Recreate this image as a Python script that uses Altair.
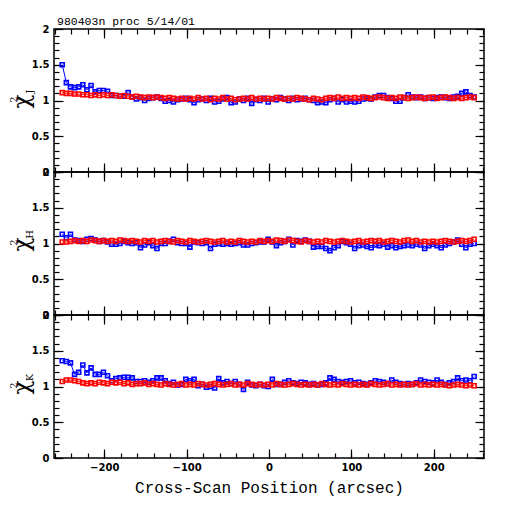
import altair as alt
import pandas as pd

x_pos = [-251, -246, -241, -236, -231, -226, -221, -216, -211, -206,
         -201, -196, -191, -186, -181, -176, -171, -166, -161, -156,
         -151, -146, -141, -136, -131, -126, -121, -116, -111, -106,
         -101, -96, -91, -86, -81, -76, -71, -66, -61, -56,
         -51, -46, -41, -36, -31, -26, -21, -16, -11, -6,
         -1, 4, 9, 14, 19, 24, 29, 34, 39, 44,
         49, 54, 59, 64, 69, 74, 79, 84, 89, 94,
         99, 104, 109, 114, 119, 124, 129, 134, 139, 144,
         149, 154, 159, 164, 169, 174, 179, 184, 189, 194,
         199, 204, 209, 214, 219, 224, 229, 234, 239, 244,
         249]

j_blue = [1.50, 1.25, 1.19, 1.18, 1.19, 1.22, 1.15, 1.21, 1.12, 1.14,
          1.14, 1.13, 1.07, 1.07, 1.06, 1.06, 1.11, 1.05, 1.02, 1.04,
          1.00, 1.03, 1.04, 1.05, 1.03, 0.99, 1.00, 0.98, 1.01, 1.02,
          1.03, 1.01, 0.97, 1.01, 1.02, 1.00, 1.03, 0.98, 0.99, 1.02,
          1.04, 0.97, 0.98, 1.02, 1.00, 1.03, 0.96, 1.01, 1.00, 1.03,
          0.98, 1.02, 1.01, 1.04, 1.02, 1.00, 1.03, 1.01, 1.02, 1.03,
          1.01, 1.00, 0.97, 0.98, 0.97, 1.01, 1.03, 0.98, 1.01, 0.98,
          0.99, 0.98, 0.99, 1.02, 1.03, 1.02, 1.05, 1.07, 1.07, 1.04,
          1.03, 0.99, 0.99, 1.04, 1.08, 1.05, 1.04, 1.05, 1.03, 1.04,
          1.03, 1.04, 1.05, 1.04, 1.03, 1.05, 1.06, 1.10, 1.12, 1.07,
          1.05]
j_red = [1.11, 1.10, 1.10, 1.09, 1.09, 1.08, 1.08, 1.07, 1.08, 1.07,
         1.08, 1.07, 1.08, 1.07, 1.06, 1.07, 1.06, 1.05, 1.06, 1.05,
         1.04, 1.05, 1.04, 1.05, 1.04, 1.03, 1.04, 1.03, 1.02, 1.03,
         1.02, 1.03, 1.02, 1.04, 1.02, 1.03, 1.01, 1.03, 1.02, 1.04,
         1.02, 1.03, 1.01, 1.02, 1.03, 1.02, 1.04, 1.02, 1.03, 1.02,
         1.03, 1.02, 1.04, 1.03, 1.02, 1.03, 1.02, 1.04, 1.03, 1.02,
         1.01, 1.03, 1.02, 1.01, 1.03, 1.04, 1.03, 1.05, 1.03, 1.04,
         1.03, 1.04, 1.03, 1.05, 1.04, 1.03, 1.04, 1.05, 1.04, 1.03,
         1.04, 1.03, 1.05, 1.04, 1.03, 1.04, 1.05, 1.04, 1.03, 1.04,
         1.05, 1.03, 1.04, 1.05, 1.04, 1.03, 1.04, 1.03, 1.04, 1.05,
         1.04]

h_blue = [1.13, 1.08, 1.13, 1.05, 1.04, 1.03, 1.06, 1.07, 1.05, 1.03,
          1.04, 1.02, 0.99, 0.99, 1.00, 1.03, 1.01, 1.00, 1.01, 0.94,
          0.98, 1.01, 0.97, 0.93, 1.00, 1.00, 1.03, 1.06, 1.01, 1.00,
          1.00, 0.95, 1.02, 1.01, 1.00, 1.01, 0.93, 0.99, 1.00, 0.99,
          1.00, 0.99, 1.00, 1.01, 0.98, 0.98, 1.00, 1.01, 1.02, 1.02,
          1.06, 1.02, 0.97, 1.01, 1.03, 1.06, 0.98, 1.04, 1.03, 1.05,
          1.03, 0.95, 0.96, 0.96, 0.93, 0.90, 0.94, 0.97, 1.03, 1.01,
          0.99, 0.93, 0.97, 0.98, 0.96, 0.94, 0.98, 0.97, 0.99, 0.95,
          0.97, 0.94, 0.96, 0.97, 0.98, 0.97, 0.99, 0.98, 0.93, 0.97,
          0.99, 0.97, 0.94, 0.98, 1.00, 1.02, 1.05, 0.99, 0.94, 0.99,
          1.00]
h_red = [1.02, 1.02, 1.03, 1.04, 1.03, 1.04, 1.03, 1.05, 1.04, 1.03,
         1.04, 1.03, 1.04, 1.03, 1.05, 1.04, 1.03, 1.04, 1.03, 1.02,
         1.04, 1.03, 1.04, 1.02, 1.03, 1.04, 1.03, 1.02, 1.04, 1.03,
         1.02, 1.04, 1.03, 1.02, 1.03, 1.04, 1.03, 1.02, 1.03, 1.04,
         1.02, 1.03, 1.02, 1.04, 1.03, 1.02, 1.03, 1.02, 1.04, 1.03,
         1.04, 1.03, 1.05, 1.04, 1.03, 1.05, 1.04, 1.03, 1.02, 1.04,
         1.03, 1.02, 1.03, 1.02, 1.04, 1.03, 1.02, 1.03, 1.04, 1.03,
         1.02, 1.03, 1.04, 1.02, 1.03, 1.04, 1.03, 1.04, 1.02, 1.03,
         1.04, 1.03, 1.02, 1.04, 1.05, 1.03, 1.04, 1.02, 1.03, 1.02,
         1.03, 1.02, 1.03, 1.04, 1.03, 1.02, 1.03, 1.04, 1.03, 1.04,
         1.06]

k_blue = [1.36, 1.35, 1.33, 1.17, 1.20, 1.30, 1.19, 1.26, 1.17, 1.17,
          1.20, 1.15, 1.08, 1.11, 1.12, 1.13, 1.13, 1.12, 1.07, 1.07,
          1.08, 1.06, 1.08, 1.12, 1.12, 1.08, 1.04, 1.06, 1.02, 1.03,
          1.10, 1.08, 1.10, 1.01, 1.03, 0.99, 1.00, 0.98, 1.11, 1.05,
          1.07, 1.04, 1.07, 1.03, 0.96, 1.06, 1.02, 1.01, 1.03, 1.01,
          1.00, 1.10, 1.03, 1.03, 1.06, 1.08, 1.05, 1.04, 1.06, 1.05,
          1.03, 1.04, 1.02, 1.03, 1.05, 1.12, 1.10, 1.07, 1.06, 1.07,
          1.08, 1.05, 1.06, 1.04, 1.03, 1.05, 1.08, 1.07, 1.06, 1.04,
          1.09, 1.06, 1.04, 1.03, 1.04, 1.03, 1.05, 1.09, 1.07, 1.06,
          1.05, 1.09, 1.06, 1.03, 1.05, 1.07, 1.12, 1.08, 1.09, 1.08,
          1.14]
k_red = [1.07, 1.09, 1.09, 1.08, 1.07, 1.05, 1.04, 1.05, 1.04, 1.06,
         1.05, 1.04, 1.06, 1.05, 1.06, 1.04, 1.05, 1.03, 1.04, 1.04,
         1.05, 1.03, 1.04, 1.03, 1.02, 1.04, 1.03, 1.02, 1.03, 1.04,
         1.02, 1.03, 1.02, 1.04, 1.03, 1.02, 1.03, 1.04, 1.03, 1.02,
         1.03, 1.04, 1.02, 1.03, 1.02, 1.04, 1.03, 1.02, 1.03, 1.02,
         1.03, 1.02, 1.04, 1.03, 1.02, 1.03, 1.04, 1.03, 1.02, 1.03,
         1.02, 1.03, 1.02, 1.04, 1.03, 1.02, 1.03, 1.02, 1.04, 1.03,
         1.02, 1.03, 1.02, 1.03, 1.02, 1.04, 1.03, 1.02, 1.03, 1.04,
         1.02, 1.03, 1.02, 1.03, 1.02, 1.03, 1.04, 1.02, 1.03, 1.02,
         1.03, 1.02, 1.03, 1.02, 1.01, 1.02, 1.03, 1.02, 1.01, 1.02,
         1.01]

x_major = [-200, -100, 0, 100, 200]
x_minor = [-260, -240, -220, -200, -180, -160, -140, -120, -100, -80, -60,
           -40, -20, 0, 20, 40, 60, 80, 100, 120, 140, 160, 180, 200, 220,
           240, 260]
y_major = [0, 0.5, 1, 1.5, 2]
y_minor = [0, 0.1, 0.2, 0.3, 0.4, 0.5, 0.6, 0.7, 0.8, 0.9, 1.0, 1.1, 1.2,
           1.3, 1.4, 1.5, 1.6, 1.7, 1.8, 1.9, 2.0]

TITLE_TOP = "980403n proc 5/14/01"
X_TITLE = "Cross-Scan Position (arcsec)"

W, H = 430, 143
XD = [-261, 261]
YD = [0, 2]
BLUE = "#0000ff"
RED = "#ff0000"
LABEL_FONT = "DejaVu Sans"
MONO = "Liberation Mono"


def ax(orient, values, size, labels=False, title=None, fmt=None):
    kw = dict(orient=orient, values=values, tickSize=size, offset=-size,
              domain=False, grid=False, labels=labels, ticks=True,
              tickColor="black", tickWidth=1.2, title=title)
    if labels:
        kw.update(labelFont=LABEL_FONT, labelFontSize=10,
                  labelFontWeight="bold", labelColor="black",
                  labelPadding=5 if orient in ("left", "right") else 4)
        if fmt:
            kw["format"] = fmt
    if title:
        kw.update(titleFont=MONO, titleFontSize=16, titleFontWeight="normal",
                  titleColor="black", titlePadding=7)
    return alt.Axis(**kw)


def panel(blue, red, sub, bottom, top):
    df = pd.DataFrame({"x": x_pos, "blue": blue, "red": red})
    base = alt.Chart(df)
    xs = alt.Scale(domain=XD, nice=False, zero=False)
    ys = alt.Scale(domain=YD, nice=False, zero=False)

    blue_line = base.mark_line(color=BLUE, strokeWidth=1).encode(
        x=alt.X("x:Q", scale=xs,
                axis=ax("bottom", x_major, 9, labels=bottom,
                        title=X_TITLE if bottom else None, fmt="d")),
        y=alt.Y("blue:Q", scale=ys,
                axis=ax("left", y_major, 9, labels=True, fmt="~g")),
    )
    blue_pts = base.mark_point(shape="square", color=BLUE, filled=False,
                               size=16, strokeWidth=1.6, opacity=1).encode(
        x=alt.X("x:Q", scale=xs, axis=ax("bottom", x_minor, 5)),
        y=alt.Y("blue:Q", scale=ys, axis=ax("left", y_minor, 5)),
    )
    red_line = base.mark_line(color=RED, strokeWidth=1).encode(
        x=alt.X("x:Q", scale=xs, axis=ax("top", x_major, 9)),
        y=alt.Y("red:Q", scale=ys, axis=ax("right", y_major, 9)),
    )
    red_pts = base.mark_point(shape="square", color=RED, filled=False,
                              size=16, strokeWidth=1.6, opacity=1).encode(
        x=alt.X("x:Q", scale=xs, axis=ax("top", x_minor, 5)),
        y=alt.Y("red:Q", scale=ys, axis=ax("right", y_minor, 5)),
    )

    one = pd.DataFrame({"k": [0]})
    chi = alt.Chart(one).mark_text(
        text="χ", font="DejaVu Serif", fontSize=23, angle=270,
        align="center", baseline="middle", color="black").encode(
        x=alt.value(-32), y=alt.value(H / 2 + 1))
    sup = alt.Chart(one).mark_text(
        text="2", font="DejaVu Serif", fontSize=10, angle=270,
        align="center", baseline="middle", color="black").encode(
        x=alt.value(-40), y=alt.value(H / 2 - 1))
    sb = alt.Chart(one).mark_text(
        text=sub, font="DejaVu Serif", fontSize=10, angle=270,
        align="center", baseline="middle", color="black").encode(
        x=alt.value(-24), y=alt.value(H / 2 - 9))
    layers = [blue_line, blue_pts, red_line, red_pts, chi, sup, sb]
    if top:
        ttl = alt.Chart(one).mark_text(
            text=TITLE_TOP, font=MONO, fontSize=11.5, align="left",
            baseline="alphabetic", color="black").encode(
            x=alt.value(3), y=alt.value(-4))
        layers.append(ttl)
    return alt.layer(*layers).resolve_axis(
        x="independent", y="independent").properties(width=W, height=H)


chart = alt.vconcat(
    panel(j_blue, j_red, "J", bottom=False, top=True),
    panel(h_blue, h_red, "H", bottom=False, top=False),
    panel(k_blue, k_red, "K", bottom=True, top=False),
    spacing=0, bounds="flush",
).properties(
    padding={"left": 0, "top": 7, "right": 10, "bottom": 10},
    background="white",
).configure_view(stroke="black", strokeWidth=1.5)

chart.save("out.html", embed_options={"renderer": "svg", "actions": False})
